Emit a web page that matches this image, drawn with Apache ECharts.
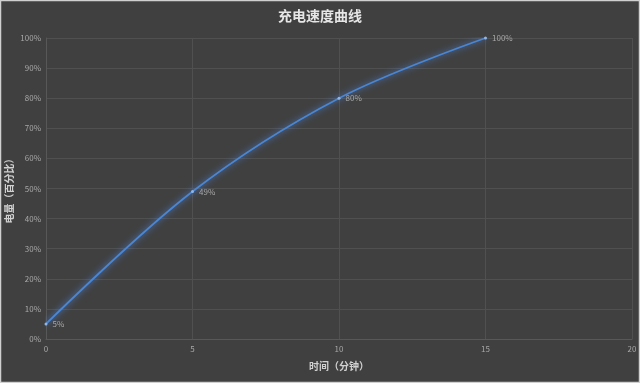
<!DOCTYPE html>
<html>
<head>
<meta charset="utf-8">
<script src="https://cdn.jsdelivr.net/npm/echarts@6/dist/echarts.min.js"></script>
<style>
html,body{margin:0;padding:0;background:#404040;}
#c{width:640px;height:383px;}
</style>
</head>
<body>
<div id="c"></div>
<script>
const title = '充电速度曲线';
const xName = '时间（分钟）';
const yName = '电量（百分比）';
const minutes = [0, 5, 10, 15];
const charge = [5, 49, 80, 100];
const xTicks = [0, 5, 10, 15, 20];
const yTicks = [0, 10, 20, 30, 40, 50, 60, 70, 80, 90, 100];

const chart = echarts.init(document.getElementById('c'), null, {renderer: 'canvas'});
const font = '"Noto Sans CJK SC", "Noto Sans", sans-serif';
chart.setOption({
  backgroundColor: '#404040',
  animation: false,
  textStyle: {fontFamily: font},
  title: {
    text: title,
    left: 'center',
    top: 4,
    textStyle: {color: '#e6e6e6', fontSize: 14, fontWeight: 'bold', fontFamily: font}
  },
  grid: {left: 46, right: 8, top: 38, bottom: 44, containLabel: false, outerBoundsMode: 'none'},
  xAxis: {
    type: 'value',
    min: 0, max: 20, interval: 5,
    name: xName,
    nameLocation: 'middle',
    nameGap: 22,
    nameMoveOverlap: false,
    nameTextStyle: {color: '#d0d0d0', fontSize: 10, fontWeight: 'bold', fontFamily: font},
    axisLine: {show: true, lineStyle: {color: '#585858'}},
    axisTick: {show: false},
    axisLabel: {color: '#a8a8a8', fontSize: 8, margin: 6,
      formatter: v => xTicks.includes(v) ? String(v) : ''},
    splitLine: {show: true, lineStyle: {color: '#505050', width: 1}}
  },
  yAxis: {
    type: 'value',
    min: 0, max: 100, interval: 10,
    name: yName,
    nameLocation: 'middle',
    nameGap: 32,
    nameRotate: 90,
    nameMoveOverlap: false,
    nameTextStyle: {color: '#d0d0d0', fontSize: 10, fontWeight: 'bold', fontFamily: font},
    axisLine: {show: true, lineStyle: {color: '#585858'}},
    axisTick: {show: false},
    axisLabel: {color: '#a8a8a8', fontSize: 8, margin: 5,
      formatter: v => yTicks.includes(v) ? v + '%' : ''},
    splitLine: {show: true, lineStyle: {color: '#505050', width: 1}}
  },
  series: [{
    type: 'line',
    data: minutes.map((m, i) => [m, charge[i]]),
    smooth: 0.35,
    symbol: 'circle',
    symbolSize: 3,
    itemStyle: {color: '#8fb6e8', borderWidth: 0},
    lineStyle: {color: '#4a86d4', width: 1.8, shadowColor: 'rgba(80,150,255,0.9)', shadowBlur: 6},
    label: {
      show: true,
      position: 'right',
      distance: 5,
      color: '#a8a8a8',
      fontSize: 8,
      fontFamily: font,
      formatter: p => p.value[1] + '%'
    }
  }],
  graphic: [{
    type: 'rect',
    shape: {x: 0.5, y: 0.5, width: 639, height: 382},
    style: {fill: 'none', stroke: '#d0d0d0', lineWidth: 1.5},
    silent: true
  }]
});
</script>
</body>
</html>
